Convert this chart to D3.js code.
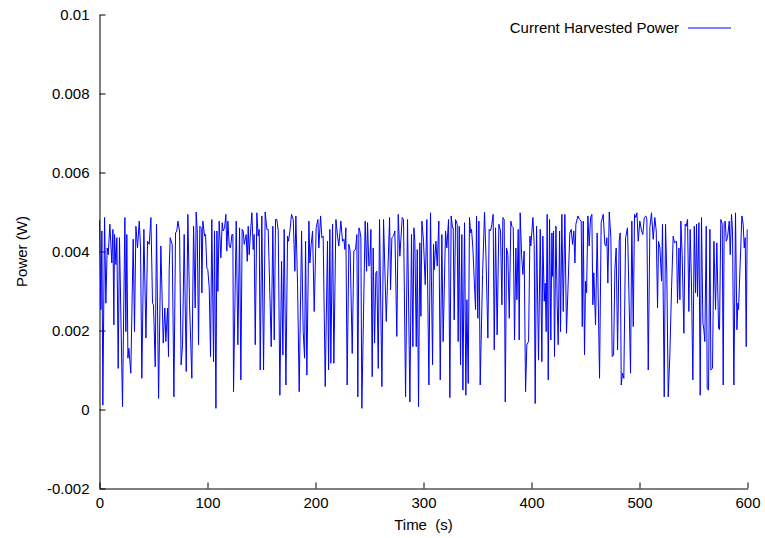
<!DOCTYPE html>
<html>
<head>
<meta charset="utf-8">
<script src="https://cdn.jsdelivr.net/npm/d3@7"></script>
<style>
body { margin: 0; background: #fff; }
text { font-family: "Liberation Sans", Arial, Helvetica, sans-serif; }
</style>
</head>
<body>
<svg id="chart"></svg>
<script>
// readings taken off the plot: time (s) and harvested power (mW)
var timeSec = [
  0,1.3,2.2,3.1,4.7,5.9,7.1,8.1,9.6,11.4,12.4,13.3,13.9,15.2,16.1,17.3,18.5,21.3,23.5,24.4,25.3,26.3,27.2,29.0,31.2,32.4,33.7,35.2,36.8,38.0,39.2,41.1,43.0,44.5,46.0,47.6,49.1,50.0,51.6,52.8,54.7,56.8,59.0,60.5,61.4,63.0,63.9,64.5,65.5,
  67.3,68.9,70.4,71.6,72.6,74.1,75.6,76.9,78.4,80.3,81.8,83.4,85.5,87.1,88.6,89.5,90.5,91.7,92.9,94.2,94.8,95.7,97.3,98.2,99.4,100.3,101.6,102.8,104.0,105.6,106.5,107.8,108.7,109.6,110.8,112.4,113.6,114.5,115.8,117.0,117.9,118.9,120.1,121.3,122.6,123.5,124.1,126.6,128.1,129.7,130.9,132.1,
  133.1,134.0,135.8,136.8,137.7,138.6,139.5,141.1,142.3,143.2,144.2,145.7,146.9,147.9,148.8,150.3,151.9,153.4,155.0,156.2,159.0,160.5,161.8,163.0,164.2,165.5,167.0,168.6,169.8,171.0,172.6,174.1,175.0,176.3,177.8,179.4,180.9,181.8,183.4,184.9,187.1,188.6,189.9,190.8,192.0,193.9,194.8,196.0,197.3,198.8,
  200.6,202.2,203.1,204.7,205.9,207.1,209.0,211.1,212.1,213.3,214.2,215.8,217.0,218.9,220.4,221.6,223.5,225.0,226.3,227.2,228.1,229.3,230.9,232.1,234.0,235.5,237.1,238.3,239.2,240.2,241.1,242.0,242.9,246.0,247.3,248.2,249.4,250.3,251.3,252.5,253.4,254.7,255.9,256.8,258.1,259.3,261.5,263.0,265.5,
  268.6,269.5,270.7,272.3,273.5,275.3,276.6,278.1,280.3,281.5,283.4,285.2,287.4,288.9,290.2,291.1,292.0,293.3,294.2,295.4,296.6,297.6,298.5,300.0,301.6,303.1,305.0,306.5,308.4,309.3,309.9,311.5,312.7,314.2,315.5,317.0,318.2,320.4,321.6,323.2,324.4,325.6,326.9,327.5,328.4,329.7,331.2,332.1,
  333.1,334.3,335.5,336.5,338.0,339.2,340.2,341.4,342.6,343.6,344.5,345.7,348.2,349.1,350.3,351.3,352.5,354.7,356.5,357.8,359.6,360.8,362.1,363.3,364.5,365.5,366.7,368.2,369.8,371.3,372.6,373.5,374.7,375.7,376.9,378.1,379.4,380.9,381.8,383.1,384.3,385.5,386.5,387.7,388.6,389.5,390.8,392.0,393.2,394.5,395.7,397.3,398.5,399.4,
  401.3,402.5,403.4,404.7,406.5,408.1,409.6,410.5,411.8,412.7,413.6,414.5,415.5,416.7,417.9,418.9,419.5,420.4,421.3,422.6,423.8,424.7,426.0,426.9,428.1,429.4,430.9,432.4,435.5,436.8,438.0,439.2,440.2,441.1,443.0,444.5,446.0,447.0,447.9,449.1,450.0,451.0,452.2,453.4,454.7,455.9,456.8,457.7,459.3,460.8,463.0,464.5,
  466.4,467.9,468.9,469.8,470.7,472.0,473.5,474.7,476.0,477.2,478.4,479.7,481.2,482.1,483.1,484.3,485.5,487.1,488.9,490.5,491.7,492.9,494.2,495.4,496.6,497.6,498.8,500.3,501.9,503.1,504.4,505.9,506.8,508.1,509.6,511.1,512.7,514.2,515.5,516.7,517.6,518.9,520.4,521.3,522.9,524.1,525.3,526.6,528.1,529.7,531.2,532.4,
  534.3,535.2,536.5,537.4,538.3,539.5,541.1,542.3,543.2,544.5,545.7,546.9,548.2,549.4,550.7,551.9,552.8,553.7,555.0,556.2,557.4,558.7,559.6,560.5,561.8,562.7,563.9,565.2,566.1,567.6,568.9,570.4,571.6,573.2,574.1,575.3,576.6,577.5,578.4,579.4,580.3,581.5,583.1,584.0,585.2,586.1,587.4,588.9,590.2,591.1,591.7,594.8,596.0,597.0,597.9,598.8,599.7
];
var powerMw = [
  4.8,2.53,4.52,0.11,4.86,2.69,4.09,3.92,4.69,3.71,4.56,2.14,4.43,3.67,4.35,1.04,4.35,0.07,4.86,1.97,4.43,1.30,1.55,0.92,4.31,1.97,4.64,4.09,4.77,4.09,0.79,4.56,1.81,4.26,4.18,4.86,2.69,2.65,1.08,4.69,0.28,4.14,1.68,2.57,1.72,2.57,1.34,3.54,4.35,
  4.18,0.32,4.47,4.52,4.77,4.52,1.13,1.64,4.43,0.96,4.94,2.65,0.79,4.64,2.57,5.0,4.52,1.64,4.64,4.60,2.95,4.77,4.39,4.43,3.58,3.54,3.08,1.34,4.81,1.21,4.52,0.03,4.52,2.99,4.77,3.84,4.73,4.52,4.60,4.94,4.01,4.77,4.14,4.09,4.43,4.43,0.45,4.77,1.64,4.60,0.75,4.56,
  4.52,4.18,4.43,3.75,4.64,3.92,4.35,4.98,4.05,4.43,1.64,4.98,4.39,4.56,1.00,4.90,1.00,5.0,4.56,4.56,1.59,4.64,1.76,4.81,4.81,4.52,0.36,3.75,1.38,4.56,0.62,4.39,4.26,4.52,4.94,4.81,3.50,4.90,3.16,0.45,4.52,1.97,1.30,4.26,0.87,4.77,3.71,4.18,4.52,2.48,
  4.60,4.81,4.09,4.90,4.35,4.39,0.58,4.26,1.00,4.56,1.17,4.69,1.17,4.81,4.39,4.14,4.77,4.26,4.31,4.05,4.60,0.62,4.18,4.01,1.42,4.01,4.05,4.43,0.32,4.60,4.52,4.35,0.03,4.77,3.50,4.73,3.63,3.67,4.56,0.83,4.09,1.68,3.46,3.50,1.04,4.81,0.58,4.81,2.23,
  4.86,3.03,4.35,4.39,4.52,1.85,4.94,3.88,4.86,4.81,0.32,4.81,0.19,4.43,1.59,4.60,4.26,1.59,4.05,0.07,4.22,2.36,4.77,4.26,3.16,4.81,0.62,4.98,1.13,4.18,3.54,4.26,3.63,4.77,0.75,4.43,1.72,4.52,4.09,4.81,0.30,4.90,4.60,4.60,2.27,4.81,4.69,1.72,
  4.64,1.13,4.43,0.49,4.73,0.36,2.78,0.66,4.86,4.47,4.56,4.09,2.53,4.90,2.31,4.77,0.62,3.42,5.0,3.92,1.81,4.56,4.52,4.69,4.94,1.51,4.60,1.89,4.69,4.52,2.65,4.86,4.81,0.19,4.09,3.92,2.31,4.77,4.64,4.60,1.76,4.09,2.78,4.56,1.76,4.98,3.92,3.42,4.01,0.45,1.64,1.72,4.39,4.14,
  4.86,4.18,0.15,4.64,1.25,4.56,1.21,4.39,2.74,3.20,1.97,4.94,0.75,4.81,1.76,4.47,3.37,4.52,1.34,4.64,2.65,1.64,4.52,1.97,4.94,2.48,4.94,1.93,4.47,4.56,4.18,4.52,3.71,4.69,4.90,4.81,4.77,2.10,4.77,1.38,3.25,2.95,4.90,4.14,4.86,4.94,2.65,3.46,2.14,4.47,0.79,4.73,
  4.94,4.18,4.14,4.35,3.20,5.0,4.35,1.34,1.38,3.54,4.09,1.51,4.26,4.47,0.62,0.92,0.79,4.35,4.60,2.57,0.92,4.77,2.10,4.94,4.86,4.98,4.26,4.77,4.52,4.43,4.86,4.90,4.81,1.00,4.60,4.98,4.31,4.86,4.52,2.57,4.26,4.09,3.25,4.69,0.32,4.69,3.42,0.32,1.38,3.08,4.39,4.22,
  4.26,2.69,4.09,2.78,4.77,3.92,1.93,4.69,4.64,4.81,2.48,4.56,3.08,0.75,4.64,2.95,4.69,2.86,4.73,0.36,4.86,2.19,2.02,1.72,4.64,0.53,0.49,4.56,1.00,1.04,4.26,2.53,4.22,2.06,2.02,4.81,4.69,0.62,4.73,4.77,4.26,4.35,4.77,3.92,4.94,4.52,0.62,4.98,2.02,2.69,2.53,4.90,4.69,4.09,4.35,1.59,4.56
];

var xTicks = [0, 100, 200, 300, 400, 500, 600];
var yTicks = [-0.002, 0, 0.002, 0.004, 0.006, 0.008, 0.01];
var yTickLabels = ["-0.002", "0", "0.002", "0.004", "0.006", "0.008", "0.01"];
var seriesName = "Current Harvested Power";

var W = 765, H = 538;
var plot = {left: 99.5, right: 747.5, top: 14.5, bottom: 488.5};

var svg = d3.select("#chart")
    .attr("width", W)
    .attr("height", H)
    .style("background", "#fff");

var x = d3.scaleLinear().domain([0, 600]).range([plot.left, plot.right]);
var y = d3.scaleLinear().domain([-0.002, 0.01]).range([plot.bottom, plot.top]);

var data = timeSec.map(function(t, i) { return {t: t, p: powerMw[i] / 1000}; });

// axes, ticks pointing inwards
var xAxis = svg.append("g")
    .attr("transform", "translate(0," + plot.bottom + ")")
    .call(d3.axisBottom(x).tickValues(xTicks).tickSizeInner(-6).tickSizeOuter(0).tickPadding(9)
        .tickFormat(d3.format("d")));

var yAxis = svg.append("g")
    .attr("transform", "translate(" + plot.left + ",0)")
    .call(d3.axisLeft(y).tickValues(yTicks).tickSizeInner(-6).tickSizeOuter(0).tickPadding(10)
        .tickFormat(function(d, i) { return yTickLabels[i]; }));

svg.selectAll(".tick text").attr("font-size", 15).attr("fill", "#000")
    .style("font-family", '"Liberation Sans", Arial, sans-serif');
svg.selectAll(".domain, .tick line").attr("stroke", "#000").attr("stroke-width", 1);

// the series
var line = d3.line()
    .x(function(d) { return x(d.t); })
    .y(function(d) { return y(d.p); });

svg.append("path")
    .datum(data)
    .attr("fill", "none")
    .attr("stroke", "#0000ff")
    .attr("stroke-width", 1)
    .attr("stroke-linejoin", "miter")
    .attr("d", line);

// axis titles
svg.append("text")
    .attr("x", (plot.left + plot.right) / 2)
    .attr("y", 530)
    .attr("text-anchor", "middle")
    .attr("font-size", 15)
    .style("white-space", "pre")
    .text("Time  (s)");

svg.append("text")
    .attr("transform", "translate(27," + ((plot.top + plot.bottom) / 2) + ") rotate(-90)")
    .attr("text-anchor", "middle")
    .attr("font-size", 15)
    .text("Power (W)");

// legend
svg.append("text")
    .attr("x", 679)
    .attr("y", 33)
    .attr("text-anchor", "end")
    .attr("font-size", 15)
    .text(seriesName);

svg.append("line")
    .attr("x1", 688).attr("x2", 731)
    .attr("y1", 28).attr("y2", 28)
    .attr("stroke", "#0000ff")
    .attr("stroke-width", 1);
</script>
</body>
</html>
